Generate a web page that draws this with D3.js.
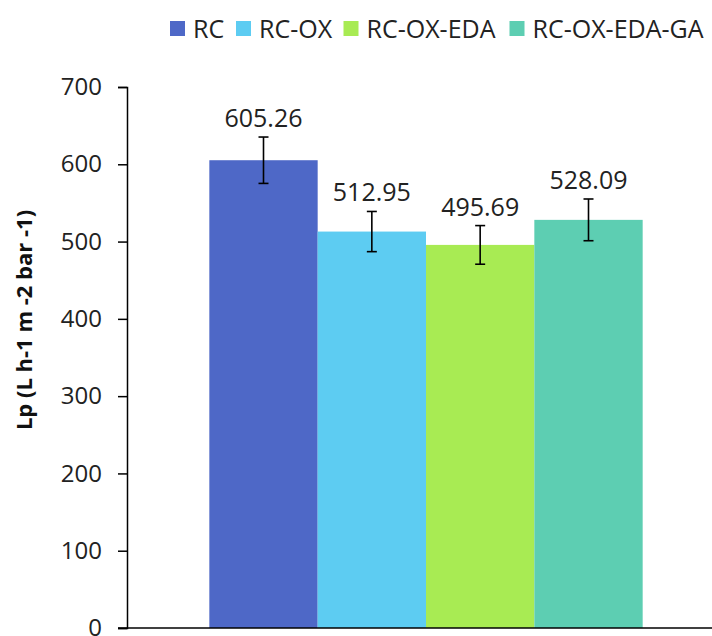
<!DOCTYPE html>
<html>
<head>
<meta charset="utf-8">
<script src="https://cdn.jsdelivr.net/npm/d3@7/dist/d3.min.js"></script>
<style>
  html, body { margin: 0; padding: 0; background: #fff; }
  svg { display: block; font-family: "Open Sans", "Noto Sans", sans-serif; }
</style>
</head>
<body>
<svg id="chart" width="712" height="636"></svg>
<script>
const categories = [""];
const series = ["RC", "RC-OX", "RC-OX-EDA", "RC-OX-EDA-GA"];
const values = [605.26, 512.95, 495.69, 528.09];
const errors = [30, 26, 25, 27];
const colors = ["#4E68C7", "#5DCCF2", "#A8EB53", "#5DCEB2"];
const yTicks = [0, 100, 200, 300, 400, 500, 600, 700];
const yTitle = "Lp (L h-1 m -2 bar -1)";

const svg = d3.select("#chart");
const W = 712, H = 636;
const m = { left: 127, right: 0, top: 87, bottom: 8 };

const y = d3.scaleLinear().domain([0, 700]).range([H - m.bottom, m.top]);
const x0 = d3.scaleBand().domain(categories).range([m.left, 725]).paddingOuter(0.19).paddingInner(0);
const x1 = d3.scaleBand().domain(series).range([0, x0.bandwidth()]).padding(0);

const data = series.map((s, i) => ({ s, v: values[i], e: errors[i], c: colors[i] }));

// bars
const g = svg.append("g").attr("transform", `translate(${x0("")},0)`);
g.selectAll("rect.bar").data(data).join("rect")
  .attr("class", "bar")
  .attr("x", d => x1(d.s))
  .attr("width", x1.bandwidth())
  .attr("y", d => y(d.v))
  .attr("height", d => y(0) - y(d.v))
  .attr("fill", d => d.c);

// error bars
const cap = 5;
const eb = g.selectAll("g.err").data(data).join("g").attr("class", "err")
  .attr("transform", d => `translate(${x1(d.s) + x1.bandwidth() / 2},0)`);
eb.append("line").attr("x1", 0).attr("x2", 0)
  .attr("y1", d => y(d.v + d.e)).attr("y2", d => y(d.v - d.e))
  .attr("stroke", "#000").attr("stroke-width", 1.6);
eb.append("line").attr("x1", -cap).attr("x2", cap)
  .attr("y1", d => y(d.v + d.e)).attr("y2", d => y(d.v + d.e))
  .attr("stroke", "#000").attr("stroke-width", 1.6);
eb.append("line").attr("x1", -cap).attr("x2", cap)
  .attr("y1", d => y(d.v - d.e)).attr("y2", d => y(d.v - d.e))
  .attr("stroke", "#000").attr("stroke-width", 1.6);

// value labels
g.selectAll("text.val").data(data).join("text")
  .attr("class", "val")
  .attr("x", d => x1(d.s) + x1.bandwidth() / 2)
  .attr("y", d => y(d.v + d.e) - 10)
  .attr("text-anchor", "middle")
  .attr("font-size", 25)
  .attr("fill", "#222")
  .text(d => d.v.toFixed(2));

// y axis
const yAxis = d3.axisLeft(y).tickValues(yTicks).tickSize(9).tickPadding(16).tickFormat(d3.format("d"));
const ya = svg.append("g").attr("transform", `translate(${m.left},0)`).call(yAxis);
ya.select(".domain").attr("stroke", "#000").attr("stroke-width", 1.5);
ya.selectAll(".tick line").attr("stroke", "#000").attr("stroke-width", 1.5);
ya.selectAll(".tick text").attr("font-size", 24).attr("fill", "#222").attr("font-family", "Open Sans, sans-serif");

// x axis baseline
svg.append("line")
  .attr("x1", m.left - 9).attr("x2", W)
  .attr("y1", y(0)).attr("y2", y(0))
  .attr("stroke", "#000").attr("stroke-width", 1.5);

// y title
svg.append("text")
  .attr("transform", `translate(32,320) rotate(-90)`)
  .attr("text-anchor", "middle")
  .attr("font-size", 22)
  .attr("font-weight", "bold")
  .attr("fill", "#111")
  .text(yTitle);

// legend
const legX = [170, 236, 343.5, 509.5];
const lg = svg.selectAll("g.leg").data(data).join("g").attr("class", "leg")
  .attr("transform", (d, i) => `translate(${legX[i]},21)`);
lg.append("rect").attr("width", 15).attr("height", 15).attr("fill", d => d.c);
lg.append("text").attr("x", 23).attr("y", 16.5)
  .attr("font-size", 25).attr("fill", "#222")
  .text(d => d.s);
</script>
</body>
</html>
